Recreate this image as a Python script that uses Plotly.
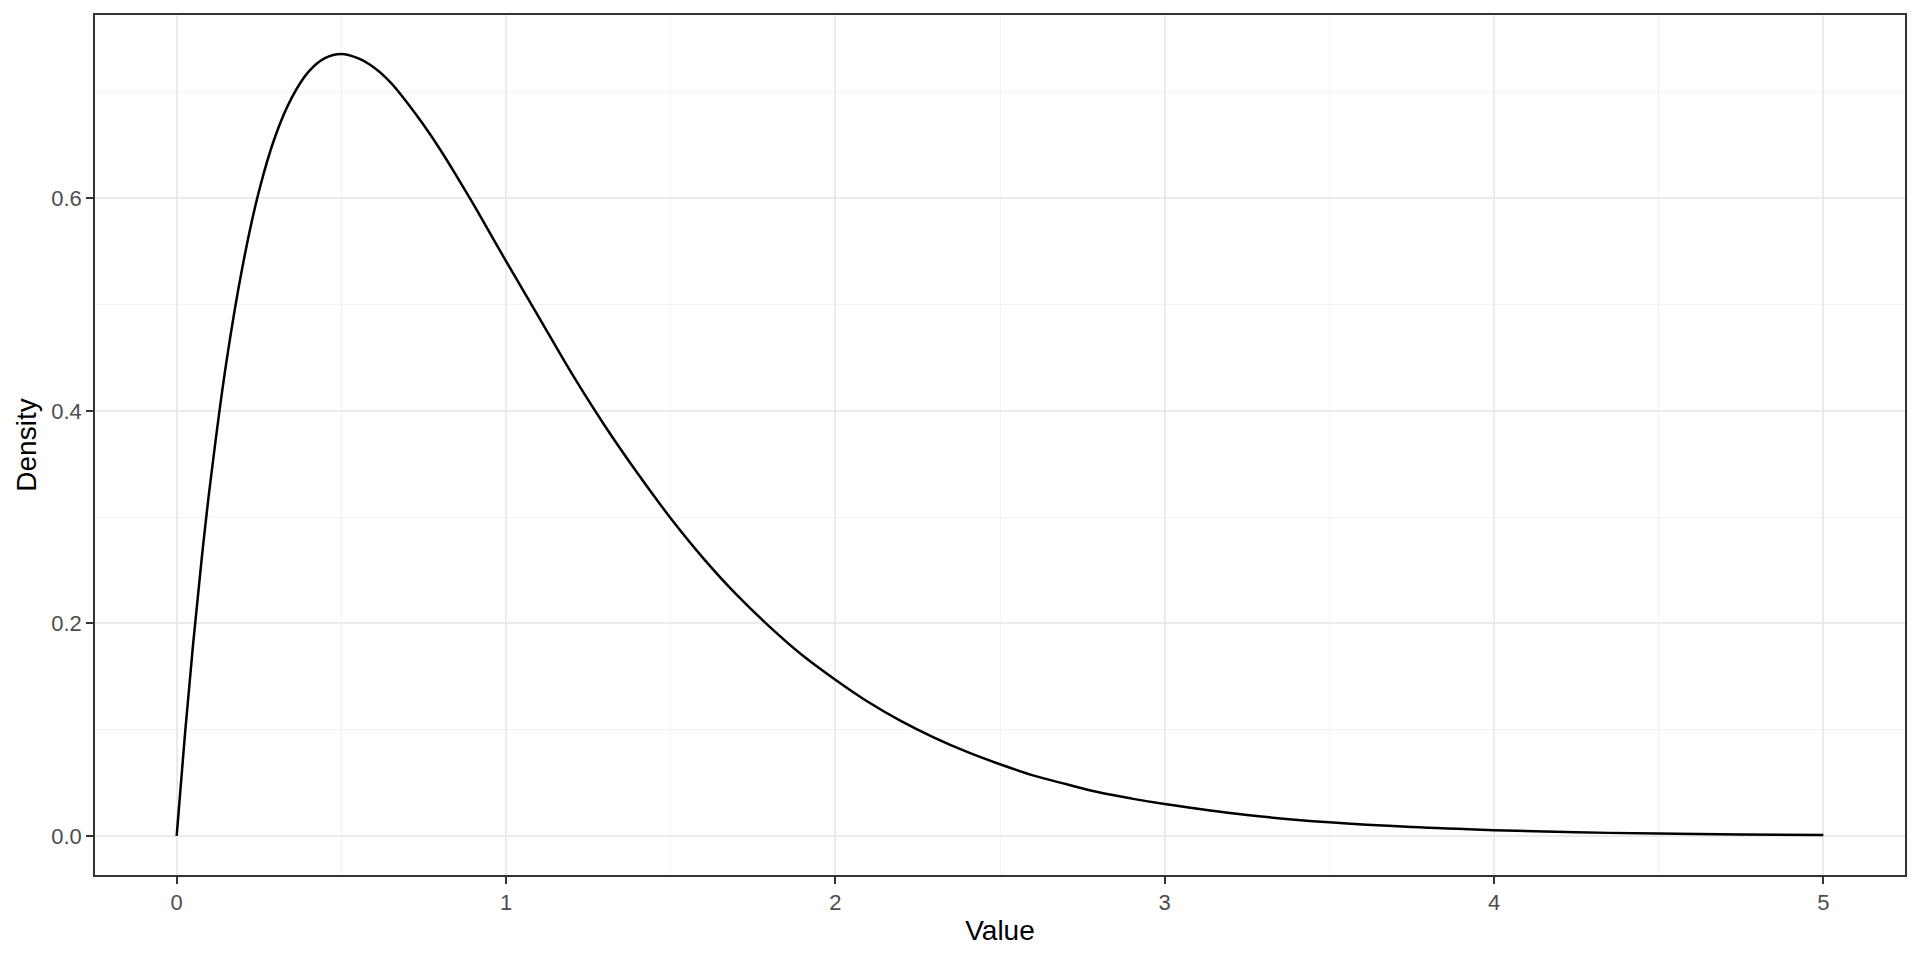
import plotly.graph_objects as go

# density curve, values
value = [0, 0.025, 0.05, 0.075, 0.1, 0.15, 0.2, 0.25, 0.3, 0.35, 0.4, 0.45, 0.5, 0.55, 0.6,
         0.65, 0.7, 0.75, 0.8, 0.85, 0.9, 0.95, 1.0, 1.1, 1.2, 1.3, 1.4, 1.5, 1.6, 1.7,
         1.8, 1.9, 2.0, 2.1, 2.2, 2.3, 2.4, 2.5, 2.6, 2.7, 2.8, 2.9, 3.0,
         3.25, 3.5, 3.75, 4.0, 4.25, 4.5, 4.75, 5.0]
density = [0, 0.095, 0.181, 0.258, 0.327, 0.444, 0.536, 0.607, 0.659, 0.695, 0.719, 0.732,
           0.736, 0.732, 0.723, 0.709, 0.690, 0.669, 0.646, 0.621, 0.595, 0.568, 0.541,
           0.488, 0.435, 0.386, 0.341, 0.299, 0.261, 0.227, 0.197, 0.170, 0.147, 0.126,
           0.108, 0.0925, 0.079, 0.0674, 0.057, 0.0488, 0.041, 0.0351, 0.030, 0.0196,
           0.0128, 0.0083, 0.0054, 0.0034, 0.0022, 0.0014, 0.0009]

x_ticks = [0, 1, 2, 3, 4, 5]
y_ticks = [0.0, 0.2, 0.4, 0.6]
y_tick_labels = ["0.0", "0.2", "0.4", "0.6"]

fig = go.Figure()
fig.add_trace(go.Scatter(
    x=value, y=density, mode="lines",
    line=dict(color="black", width=2.5, shape="spline", smoothing=1.0),
    showlegend=False, hoverinfo="skip"
))

axis_common = dict(
    showline=True, linecolor="#333333", linewidth=1.5, mirror=True,
    showgrid=True, gridcolor="#ebebeb", gridwidth=2,
    zeroline=False,
    ticks="outside", ticklen=7, tickwidth=2, tickcolor="#333333",
    tickfont=dict(family="Liberation Sans, Arial", size=22, color="#4d4d4d"),
    minor=dict(showgrid=True, gridcolor="#f2f2f2", gridwidth=1, ticks=""),
)

fig.update_layout(
    width=1920, height=960,
    margin=dict(l=95, r=15, t=15, b=85, autoexpand=False),
    plot_bgcolor="white", paper_bgcolor="white",
    font=dict(family="Liberation Sans, Arial", color="black"),
    xaxis=dict(
        range=[-0.248, 5.248], tickvals=x_ticks,
        title=dict(text="Value", font=dict(size=28, color="black"), standoff=6),
        **axis_common
    ),
    yaxis=dict(
        range=[-0.0368, 0.7726], tickvals=y_ticks, ticktext=y_tick_labels,
        title=dict(text="Density", font=dict(size=28, color="black"), standoff=6),
        **axis_common
    ),
)
fig.update_xaxes(minor=dict(tickvals=[0.5, 1.5, 2.5, 3.5, 4.5]))
fig.update_yaxes(minor=dict(tickvals=[0.1, 0.3, 0.5, 0.7]))

fig.write_html("out.html", config={"displayModeBar": False},
               post_script="document.body.style.margin='0';")
